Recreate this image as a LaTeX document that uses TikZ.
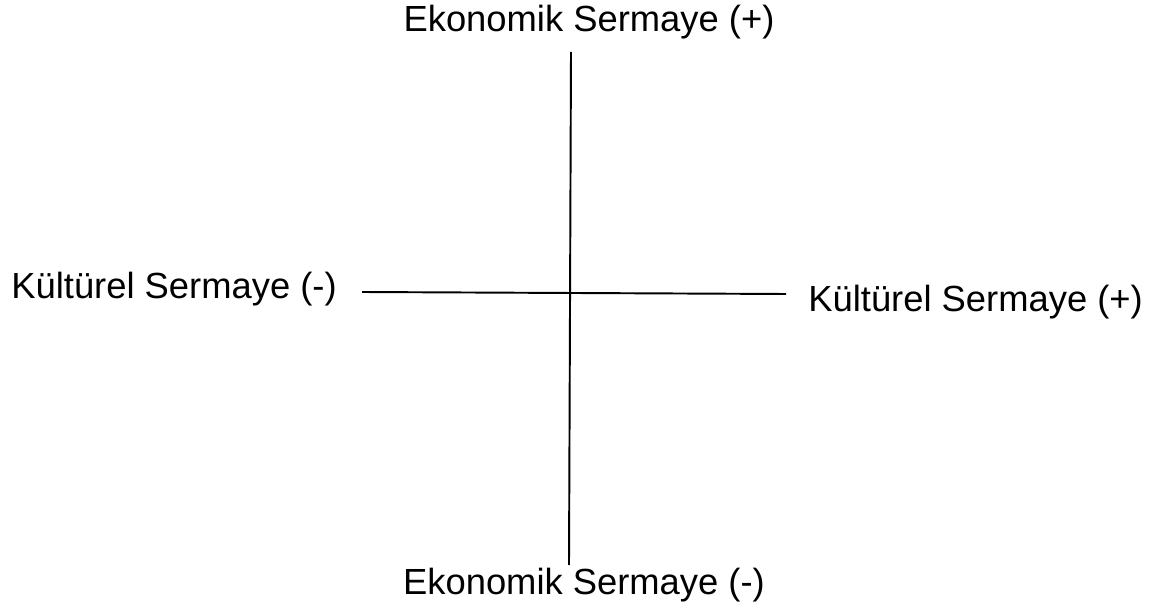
\documentclass[tikz,border=0pt]{standalone}
\usepackage{fontspec}
\setmainfont{Liberation Sans}
\begin{document}
\begin{tikzpicture}[x=0.02cm,y=-0.02cm]
\useasboundingbox (0,0) rectangle (1167,611);
 \begin{scope}[every node/.style={inner sep=0pt, font=\fontsize{20.7}{24}\selectfont}]
  \node[anchor=base] (ekoplus) at (589,32) {Ekonomik Sermaye (+)};
  \node[anchor=base] (ekominus) at (584,594) {Ekonomik Sermaye (-)};
  \node[anchor=base west] (kulminus) at (11,299) {Kültürel Sermaye (-)};
  \node[anchor=base west] (kulplus) at (808,312) {Kültürel Sermaye (+)};
 \end{scope}
  \coordinate (top) at (571,52);
  \coordinate (bottom) at (569,565);
  \coordinate (left) at (362,292);
  \coordinate (right) at (786,294);
  \path [-, line width=1.1pt] (top) edge node {} (bottom);
  \path [-, line width=1.1pt] (left) edge node {} (right);
\end{tikzpicture}
\end{document}
